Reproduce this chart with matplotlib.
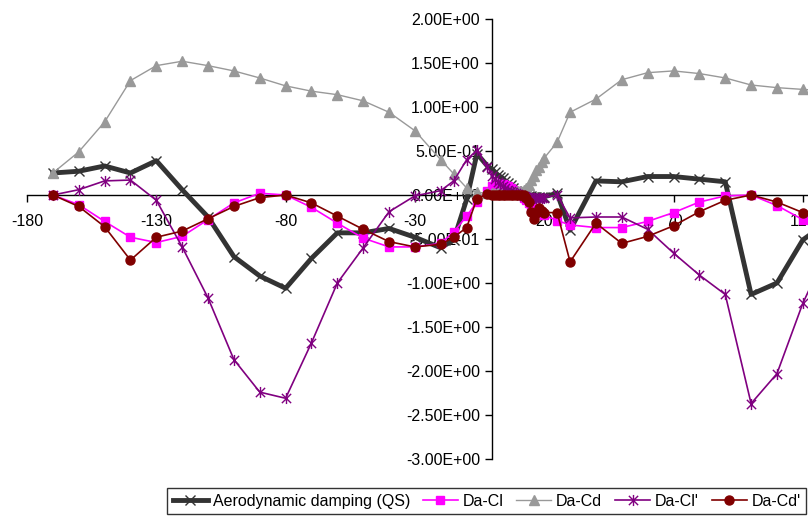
import matplotlib
matplotlib.use('Agg')
import matplotlib.pyplot as plt
from matplotlib.path import Path
from matplotlib.ticker import FuncFormatter, FixedLocator

plt.rcParams['font.family'] = ['Liberation Sans', 'DejaVu Sans']

angles = [-170, -160, -150, -140, -130, -120, -110, -100, -90, -80, -70, -60, -50, -40, -30, -20,
          -15, -10, -6, -2,
          0, 1, 2, 3, 4, 5, 6, 7, 8, 9, 10, 11, 12, 13, 14, 15, 16, 17, 18, 19, 20,
          25, 30,
          40, 50, 60, 70, 80, 90, 100, 110, 120, 130]

qs = [0.25, 0.27, 0.33, 0.25, 0.39, 0.06, -0.25, -0.70, -0.92, -1.06, -0.72, -0.43, -0.43, -0.38, -0.48, -0.60,
      -0.51, -0.05, 0.47, 0.33,
      0.29, 0.26, 0.23, 0.21, 0.19, 0.16, 0.14, 0.11, 0.08, 0.05, 0.03, 0.02, 0.01, 0.0, -0.01, -0.01, -0.02, -0.02, -0.02, -0.02, -0.02,
      0.02, -0.40,
      0.16, 0.15, 0.21, 0.21, 0.18, 0.15, -1.13, -1.00, -0.51, -0.30]

da_cl = [0.0, -0.11, -0.30, -0.48, -0.54, -0.47, -0.28, -0.09, 0.02, 0.0, -0.14, -0.32, -0.49, -0.59, -0.59, -0.55,
         -0.42, -0.24, -0.08, 0.05,
         0.10, 0.12, 0.13, 0.13, 0.12, 0.11, 0.10, 0.08, 0.06, 0.04, 0.02, 0.0, -0.03, -0.06, -0.09, -0.12, -0.15, -0.17, -0.19, -0.21, -0.23,
         -0.29, -0.34,
         -0.37, -0.37, -0.30, -0.20, -0.08, -0.01, 0.0, -0.12, -0.28, -0.42]

da_cd = [0.25, 0.49, 0.83, 1.30, 1.47, 1.52, 1.47, 1.41, 1.33, 1.24, 1.18, 1.14, 1.07, 0.94, 0.73, 0.40,
         0.24, 0.08, 0.03, 0.02,
         0.02, 0.02, 0.02, 0.02, 0.02, 0.02, 0.02, 0.02, 0.03, 0.03, 0.04, 0.05, 0.06, 0.08, 0.11, 0.17, 0.22, 0.28, 0.32, 0.37, 0.42,
         0.60, 0.94,
         1.09, 1.31, 1.39, 1.41, 1.38, 1.33, 1.25, 1.22, 1.20, 1.18]

da_clp = [0.0, 0.06, 0.16, 0.17, -0.06, -0.59, -1.17, -1.87, -2.24, -2.31, -1.68, -1.00, -0.60, -0.19, -0.01, 0.05,
          0.16, 0.40, 0.51, 0.32,
          0.22, 0.18, 0.15, 0.12, 0.10, 0.08, 0.06, 0.04, 0.03, 0.02, 0.01, 0.0, -0.01, -0.02, -0.02, -0.03, -0.03, -0.03, -0.03, -0.03, -0.03,
          0.0, -0.26,
          -0.25, -0.25, -0.39, -0.66, -0.91, -1.13, -2.37, -2.03, -1.23, -0.60]

da_cdp = [0.0, -0.13, -0.36, -0.74, -0.48, -0.41, -0.27, -0.13, -0.03, 0.0, -0.09, -0.24, -0.39, -0.53, -0.59, -0.56,
          -0.48, -0.37, -0.04, 0.01,
          0.0, 0.0, 0.0, 0.0, 0.0, 0.0, 0.0, 0.0, 0.0, 0.0, 0.0, 0.0, 0.0, -0.03, -0.08, -0.19, -0.27, -0.20, -0.15, -0.18, -0.20,
          -0.20, -0.76,
          -0.32, -0.55, -0.47, -0.35, -0.19, -0.06, 0.0, -0.08, -0.20, -0.32]

x_ticks = [-180, -130, -80, -30, 20, 70, 120, 170]
y_ticks = [-3.0, -2.5, -2.0, -1.5, -1.0, -0.5, 0.0, 0.5, 1.0, 1.5, 2.0]

labels = ["Aerodynamic damping (QS)", "Da-Cl", "Da-Cd", "Da-Cl'", "Da-Cd'"]

# asterisk marker (X with vertical bar), Excel "star"
star = Path([(-1, -1), (1, 1), (-1, 1), (1, -1), (0, -1.2), (0, 1.2)],
            [Path.MOVETO, Path.LINETO, Path.MOVETO, Path.LINETO, Path.MOVETO, Path.LINETO])

W, H = 808, 517
fig = plt.figure(figsize=(W / 100, H / 100), dpi=100)
ax = fig.add_axes([27 / W, (H - 459) / H, (W - 27) / W, 440 / H])

ax.plot(angles, qs, color='#333333', lw=3.5, marker='x', ms=7, mew=1.0, zorder=3, label=labels[0])
ax.plot(angles, da_cl, color='#FF00FF', lw=1.2, marker='s', ms=6, zorder=4, label=labels[1])
ax.plot(angles, da_cd, color='#999999', lw=1.0, marker='^', ms=7, zorder=5, label=labels[2])
ax.plot(angles, da_clp, color='#800080', lw=1.2, marker=star, ms=8, mew=1.0, zorder=6, label=labels[3])
ax.plot(angles, da_cdp, color='#800000', lw=1.2, marker='o', ms=6.5, zorder=7, label=labels[4])

ax.set_xlim(-180, 122)
ax.set_ylim(-3, 2)

for s in ['top', 'right']:
    ax.spines[s].set_visible(False)
ax.spines['left'].set_position(('data', 0))
ax.spines['bottom'].set_position(('data', 0))
ax.spines['left'].set_bounds(-3, 2)
for s in ['left', 'bottom']:
    ax.spines[s].set_color('black')
    ax.spines[s].set_linewidth(1.0)
    ax.spines[s].set_zorder(1)

ax.xaxis.set_major_locator(FixedLocator(x_ticks))
ax.yaxis.set_major_locator(FixedLocator(y_ticks))
ax.xaxis.set_major_formatter(FuncFormatter(lambda v, p: f"{v:.0f}"))
ax.yaxis.set_major_formatter(FuncFormatter(lambda v, p: f"{v:.2E}"))
ax.tick_params(axis='x', direction='out', length=5, width=1, pad=9, labelsize=11.5)
ax.tick_params(axis='y', direction='out', length=5, width=1, pad=4, labelsize=11.5)

leg = fig.legend(loc='upper left', bbox_to_anchor=(167 / W, 1 - 488 / H), ncol=5,
                 frameon=True, fancybox=False, edgecolor='black', fontsize=11.5,
                 handlelength=2.2, handletextpad=0.3, columnspacing=0.8,
                 borderpad=0.35, borderaxespad=0)
leg.get_frame().set_linewidth(1.0)

fig.savefig('out.png', dpi=100)
